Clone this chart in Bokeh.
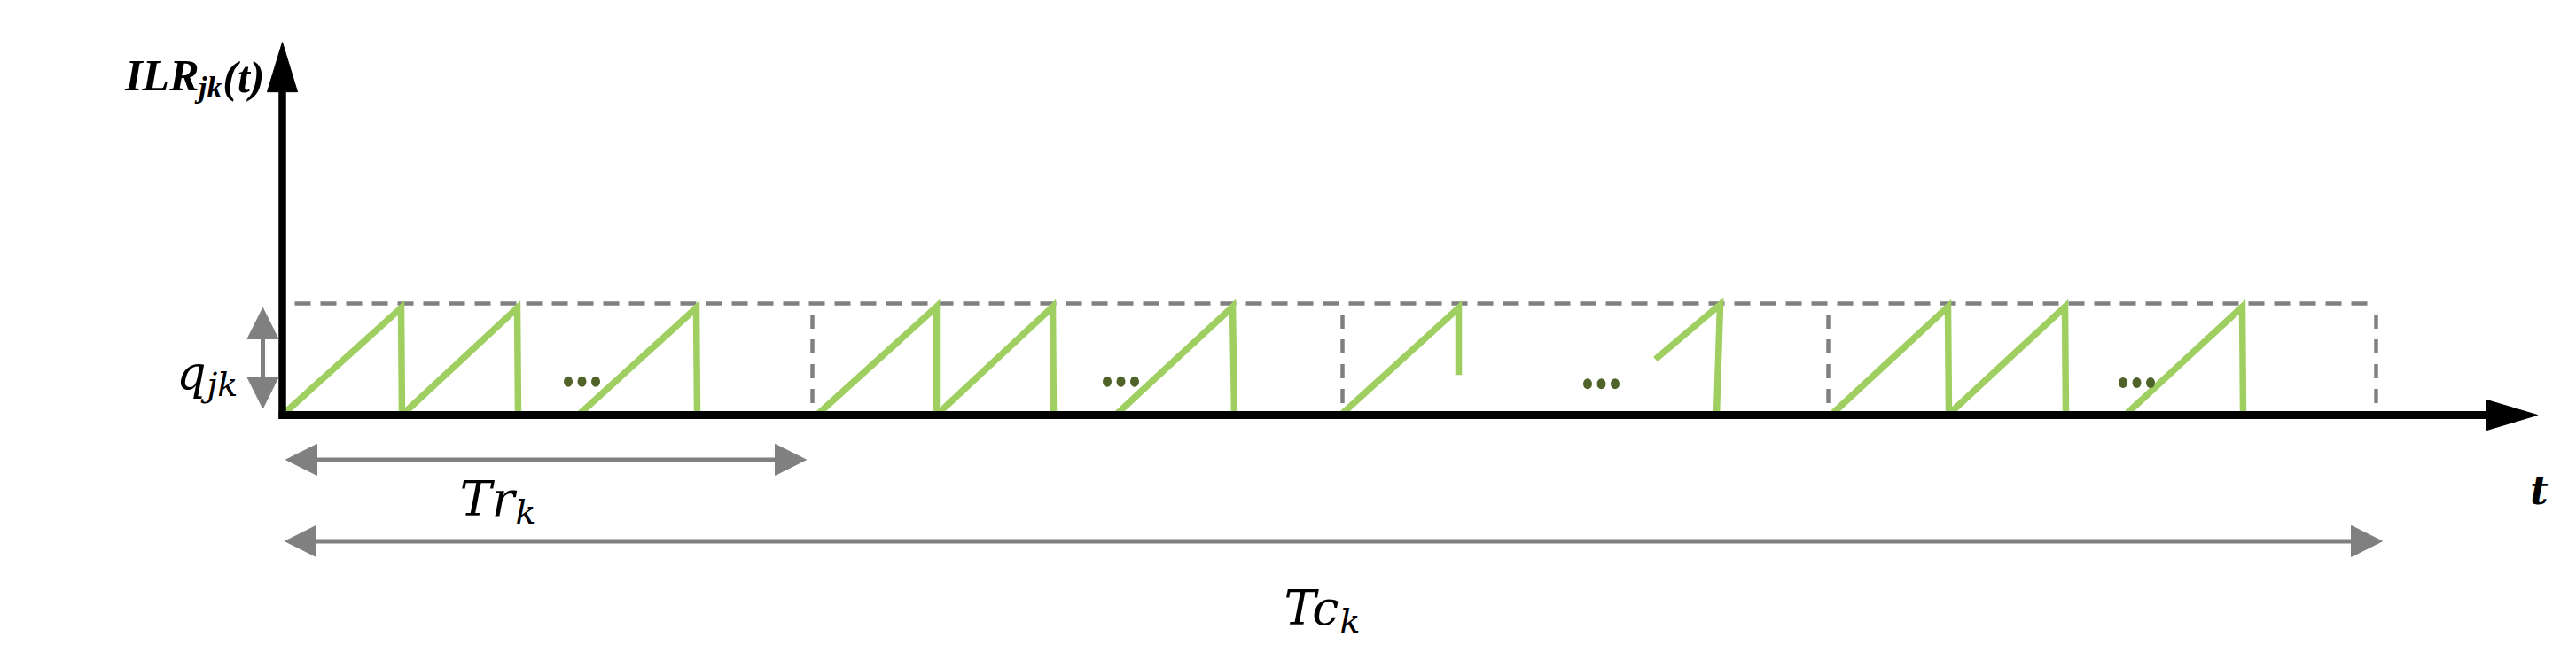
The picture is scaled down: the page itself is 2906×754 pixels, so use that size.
from bokeh.plotting import figure
from bokeh.models import Range1d, Arrow, NormalHead
from bokeh.core.properties import value
from bokeh.embed import file_html
from bokeh.resources import INLINE

# ---------------- data (time units t, inventory level in units of q_jk) ----------------
# sawtooth teeth: start point -> peak -> end of drop
tooth_t0 = [0.00, 1.35, 3.34, 6.03, 7.38, 9.40, 11.94, 15.49, 17.47, 18.79, 20.79]
tooth_q0 = [0.00, 0.00, 0.00, 0.00, 0.00, 0.00, 0.00, 0.50, 0.00, 0.00, 0.00]
tooth_t1 = [1.34, 2.65, 4.67, 7.38, 8.69, 10.72, 13.27, 16.22, 18.79, 20.11, 22.11]
tooth_q1 = [0.96, 0.96, 0.96, 0.97, 0.97, 0.97, 0.96, 0.99, 0.97, 0.97, 0.97]
tooth_t2 = [1.35, 2.66, 4.68, 7.38, 8.70, 10.74, 13.27, 16.18, 18.80, 20.12, 22.12]
tooth_q2 = [0.00, 0.00, 0.00, 0.00, 0.00, 0.00, 0.36, 0.00, 0.00, 0.00, 0.00]

# "..." ellipsis groups
dots_center_t = [3.38, 9.46, 14.88, 20.92]
dots_level = [0.30, 0.30, 0.28, 0.29]
dot_spacing_t = 0.155

# dashed boxes (cycle blocks Tr_k), top at q_jk = 1
box_top_start_t = 0.14
box_edges_t = [5.98, 11.96, 17.44, 23.62]
q_level = 1.0

# dimension arrows
tr_span = [0.04, 5.91]
tr_level = -0.40
tc_span = [0.03, 23.69]
tc_level = -1.13
q_arrow_t = -0.22
q_arrow_span = [0.96, 0.06]

# axes
x_axis_end_t = 25.44
y_axis_end_q = 3.34

# ---------------- geometry of the page ----------------
PX_T = 100.0   # pixels per time unit
PX_Q = 126.0   # pixels per q unit
X0, Y0 = 318.0, 468.0
W, H = 2900, 750

p = figure(width=W, height=H, output_backend="svg", toolbar_location=None,
           x_range=Range1d((0 - X0) / PX_T, (W - X0) / PX_T),
           y_range=Range1d((Y0 - H) / PX_Q, (Y0 - 0) / PX_Q),
           min_border=0)
p.xaxis.visible = False
p.yaxis.visible = False
p.grid.visible = False
p.outline_line_color = None
p.background_fill_color = "white"
p.border_fill_color = "white"

GREEN = "#9FCF60"
GRAY = "#808080"
DOTS = "#4F6228"

# dashed boxes
p.line([box_top_start_t, box_edges_t[-1]], [q_level, q_level], line_color=GRAY,
       line_width=4.5, line_dash="18 11")
for e in box_edges_t:
    p.line([e, e], [q_level - 0.1, 0.03], line_color=GRAY, line_width=4.5, line_dash="16 12")

# sawtooth
xs = [[a, b, c] for a, b, c in zip(tooth_t0, tooth_t1, tooth_t2)]
ys = [[a, b, c] for a, b, c in zip(tooth_q0, tooth_q1, tooth_q2)]
p.multi_line(xs, ys, line_color=GREEN, line_width=7.5, line_join="miter")

# ellipsis dots
dx, dy = [], []
for c, lv in zip(dots_center_t, dots_level):
    for k in (-1, 0, 1):
        dx.append(c + k * dot_spacing_t)
        dy.append(lv)
p.ellipse(dx, dy, width=10, height=12, width_units="screen", height_units="screen",
          fill_color=DOTS, line_color=None)

# axes
p.line([-0.04, x_axis_end_t - 0.5], [0.0, 0.0], line_color="black", line_width=9)
p.line([0.0, 0.0], [-0.035, y_axis_end_q - 0.4], line_color="black", line_width=8.5)
hl_x, hw_x = 57 / PX_T, 17 / PX_Q
hl_y, hw_y = 56 / PX_Q, 17 / PX_T
p.patches([[x_axis_end_t, x_axis_end_t - hl_x, x_axis_end_t - hl_x],
           [0.0, -hw_y, hw_y]],
          [[0.0, hw_x, -hw_x],
           [y_axis_end_q, y_axis_end_q - hl_y, y_axis_end_q - hl_y]],
          fill_color="black", line_color="black", line_width=1)

# dimension arrows
def dim_arrow(x0, y0, x1, y1):
    p.add_layout(Arrow(
        start=NormalHead(size=35, fill_color=GRAY, line_color=GRAY, line_width=1),
        end=NormalHead(size=35, fill_color=GRAY, line_color=GRAY, line_width=1),
        x_start=x0, y_start=y0, x_end=x1, y_end=y1,
        line_color=GRAY, line_width=5))

dim_arrow(tr_span[0], tr_level, tr_span[1], tr_level)
dim_arrow(tc_span[0], tc_level, tc_span[1], tc_level)
dim_arrow(q_arrow_t, q_arrow_span[0], q_arrow_t, q_arrow_span[1])

# texts
SERIF = value("DejaVu Serif")
TIMES = value("Liberation Serif")

def T(px):
    return (px - X0) / PX_T

def Q(py):
    return (Y0 - py) / PX_Q

def txt(x, y, s, size, style="italic", align="left", font=SERIF):
    p.text([x], [y], text=[s], text_font=font, text_font_size=size,
           text_font_style=style, text_align=align, text_baseline="alphabetic",
           text_color="black")

# y label ILR_jk(t)
txt(T(224), Q(84), "ILR", "50px", "bold italic", "right", TIMES)
txt(T(250), Q(98), "jk", "34px", "bold italic", "right", TIMES)
txt(T(298), Q(86), "(t)", "50px", "bold italic", "right", TIMES)
# x label t
txt(T(2864), Q(553), "t", "44px", "bold italic", "center")
# q_jk
txt(T(232), Q(420), "q", "52px", "italic", "right")
txt(T(233), Q(433), "jk", "38px", "italic", "left")
# Tr_k
txt(T(580), Q(563), "Tr", "54px", "italic", "right")
txt(T(581), Q(577), "k", "38px", "italic", "left")
# Tc_k
txt(T(1510), Q(686), "Tc", "54px", "italic", "right")
txt(T(1511), Q(700), "k", "38px", "italic", "left")

open("out.html", "w").write(file_html(p, INLINE))
